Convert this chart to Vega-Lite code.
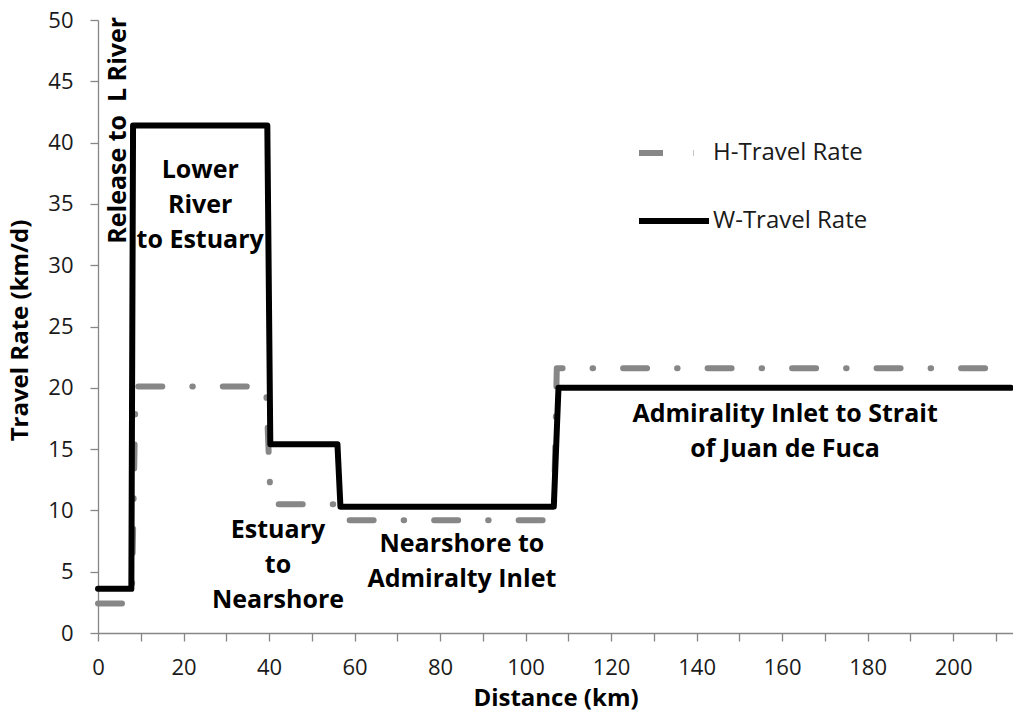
{
  "$schema": "https://vega.github.io/schema/vega-lite/v6.json",
  "width": 915,
  "height": 613,
  "autosize": "none",
  "padding": {"left": 98, "top": 20, "right": 0, "bottom": 84},
  "background": "#ffffff",
  "config": {
    "view": {"stroke": null},
    "font": "Open Sans",
    "axis": {"grid": false, "domainColor": "#868686", "tickColor": "#868686", "domainWidth": 1.3, "tickWidth": 1.3, "labelColor": "#1a1a1a", "titleColor": "#000000"}
  },
  "layer": [
    {
      "data": {
        "values": [
          {"series": "H-Travel Rate", "distance": 0, "rate": 2.4},
          {"series": "H-Travel Rate", "distance": 7.9, "rate": 2.4},
          {"series": "H-Travel Rate", "distance": 8.8, "rate": 20.1},
          {"series": "H-Travel Rate", "distance": 39.3, "rate": 20.1},
          {"series": "H-Travel Rate", "distance": 40.4, "rate": 10.5},
          {"series": "H-Travel Rate", "distance": 56.2, "rate": 10.5},
          {"series": "H-Travel Rate", "distance": 56.8, "rate": 9.2},
          {"series": "H-Travel Rate", "distance": 106.6, "rate": 9.2},
          {"series": "H-Travel Rate", "distance": 107.3, "rate": 21.6},
          {"series": "H-Travel Rate", "distance": 213.5, "rate": 21.6},
          {"series": "W-Travel Rate", "distance": 0, "rate": 3.6},
          {"series": "W-Travel Rate", "distance": 7.8, "rate": 3.6},
          {"series": "W-Travel Rate", "distance": 8.2, "rate": 41.4},
          {"series": "W-Travel Rate", "distance": 39.6, "rate": 41.4},
          {"series": "W-Travel Rate", "distance": 40.3, "rate": 15.4},
          {"series": "W-Travel Rate", "distance": 56.0, "rate": 15.4},
          {"series": "W-Travel Rate", "distance": 56.7, "rate": 10.3},
          {"series": "W-Travel Rate", "distance": 106.6, "rate": 10.3},
          {"series": "W-Travel Rate", "distance": 107.7, "rate": 20.0},
          {"series": "W-Travel Rate", "distance": 213.5, "rate": 20.0}
        ]
      },
      "mark": {"type": "line", "strokeWidth": 6, "strokeCap": "round", "strokeJoin": "round"},
      "encoding": {
        "x": {
          "field": "distance",
          "type": "quantitative",
          "scale": {"domain": [0, 214], "nice": false, "zero": true},
          "axis": {
            "values": [0, 5, 10, 15, 20, 25, 30, 35, 40, 45, 50, 55, 60, 65, 70, 75, 80, 85, 90, 95, 100, 105, 110, 115, 120, 125, 130, 135, 140, 145, 150, 155, 160, 165, 170, 175, 180, 185, 190, 195, 200, 205, 210],
            "labelExpr": "datum.value % 20 === 0 ? datum.label : ''",
            "tickSize": {"condition": {"test": "datum.value % 10 === 0", "value": 8}, "value": -7},
            "labelFlush": false,
            "labelOverlap": false,
            "labelFontSize": 22,
            "labelPadding": 16,
            "title": "Distance (km)",
            "titleFontSize": 24,
            "titleFontWeight": "bold",
            "titlePadding": 8
          }
        },
        "y": {
          "field": "rate",
          "type": "quantitative",
          "scale": {"domain": [0, 50], "nice": false},
          "axis": {
            "values": [0, 5, 10, 15, 20, 25, 30, 35, 40, 45, 50],
            "tickSize": 8,
            "labelFontSize": 22,
            "labelPadding": 17,
            "title": "Travel Rate (km/d)",
            "titleFontSize": 24,
            "titleFontWeight": "bold",
            "titleX": -78,
            "titleY": 310,
            "titleAngle": 270,
            "titleAlign": "center",
            "titleBaseline": "middle"
          }
        },
        "color": {
          "field": "series",
          "type": "nominal",
          "scale": {"domain": ["H-Travel Rate", "W-Travel Rate"], "range": ["#878787", "#000000"]},
          "legend": {
            "title": null,
            "orient": "none",
            "legendX": 538,
            "legendY": 95,
            "symbolType": "stroke",
            "symbolSize": 4900,
            "symbolStrokeWidth": 6,
            "labelFontSize": 24,
            "labelColor": "#1a1a1a",
            "labelOffset": 1,
            "rowPadding": 18,
            "padding": 0
          }
        },
        "strokeDash": {
          "field": "series",
          "type": "nominal",
          "scale": {"domain": ["H-Travel Rate", "W-Travel Rate"], "range": [[24, 30, 0.5, 30], [1, 0]]},
          "legend": {
            "title": null,
            "orient": "none",
            "legendX": 538,
            "legendY": 95,
            "symbolType": "stroke",
            "symbolSize": 4900,
            "symbolStrokeWidth": 6,
            "labelFontSize": 24,
            "labelColor": "#1a1a1a",
            "labelOffset": 1,
            "rowPadding": 18,
            "padding": 0
          }
        }
      }
    },
    {
      "data": {
        "values": [
          {"distance": 23.9, "rate": 37.8, "label": "Lower\nRiver\nto Estuary"},
          {"distance": 42.1, "rate": 8.4, "label": "Estuary\nto\nNearshore"},
          {"distance": 85.1, "rate": 7.3, "label": "Nearshore to\nAdmiralty Inlet"},
          {"distance": 160.7, "rate": 17.9, "label": "Admirality Inlet to Strait\nof Juan de Fuca"}
        ]
      },
      "mark": {"type": "text", "fontSize": 25, "fontWeight": "bold", "color": "#000000", "align": "center", "baseline": "middle", "lineBreak": "\n", "lineHeight": 35},
      "encoding": {
        "x": {"field": "distance", "type": "quantitative"},
        "y": {"field": "rate", "type": "quantitative"},
        "text": {"field": "label"}
      }
    },
    {
      "data": {"values": [{"distance": 4.7, "rate": 41.0, "label": "Release to\u00a0 L River"}]},
      "mark": {"type": "text", "fontSize": 25, "fontWeight": "bold", "color": "#000000", "align": "center", "baseline": "middle", "angle": 270},
      "encoding": {
        "x": {"field": "distance", "type": "quantitative"},
        "y": {"field": "rate", "type": "quantitative"},
        "text": {"field": "label"}
      }
    }
  ]
}
